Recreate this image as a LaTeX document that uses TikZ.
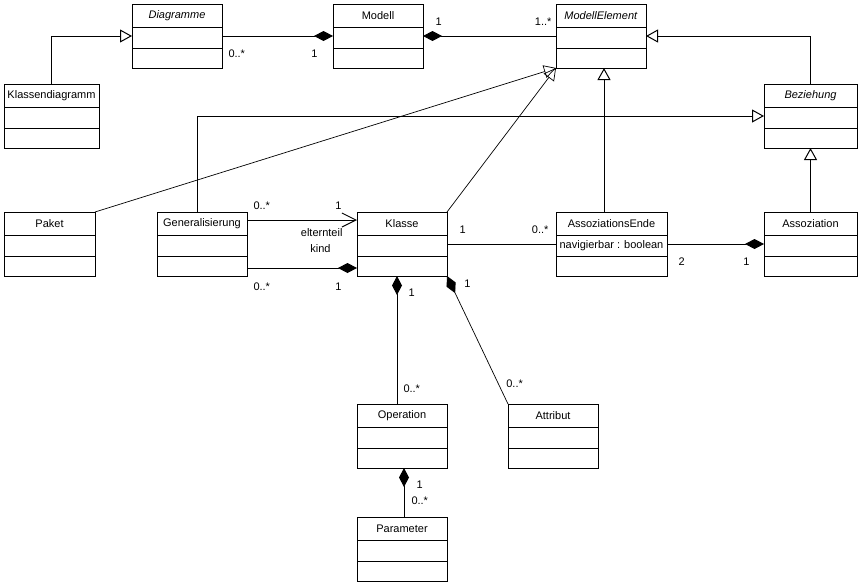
\documentclass[tikz,border=0pt]{standalone}
\usepackage{fontspec}
\setmainfont{Liberation Sans}
\usetikzlibrary{arrows.meta}

\tikzset{
  classbox/.style={draw, anchor=north west, inner sep=0pt, outer sep=0pt, minimum height=64pt},
  classname/.style={inner sep=0pt, font=\fontsize{11}{13}\selectfont},
  mult/.style={inner sep=0pt, font=\fontsize{11}{13}\selectfont},
  generalize/.style={-{Triangle[open,length=12pt,width=13pt]}},
  composite/.style={-{Diamond[length=19pt,width=10pt]}},
  navigate/.style={-{Straight Barb[length=14pt,width=14pt]}},
}

% name, x, y, width, title
\newcommand{\umlclass}[5]{%
  \node[classbox, minimum width=#4pt] (#1) at (#2,#3) {};
  \node[classname] (#1-name) at ([yshift=-11.5pt]#1.north) {#5};
  \draw ([yshift=-23pt]#1.north west) -- ([yshift=-23pt]#1.north east)
        ([yshift=-44pt]#1.north west) -- ([yshift=-44pt]#1.north east);
}

\begin{document}
\begin{tikzpicture}[x=1pt, y=-1pt, line width=1pt]
  \useasboundingbox (0,0) rectangle (858,584);

  \umlclass{diagramme}{132}{4}{90}{\textit{Diagramme}}
  \umlclass{modell}{333}{4}{90}{Modell}
  \umlclass{modellelement}{556}{4}{90}{\textit{ModellElement}}
  \umlclass{klassendiagramm}{4}{84}{95}{Klassendiagramm}
  \umlclass{beziehung}{764}{84}{93}{\textit{Beziehung}}
  \umlclass{paket}{4}{212}{91}{Paket}
  \umlclass{generalisierung}{157}{212}{90}{Generalisierung}
  \umlclass{klasse}{357}{212}{90}{Klasse}
  \umlclass{assozende}{556}{212}{111}{AssoziationsEnde}
  \umlclass{assoziation}{764}{212}{93}{Assoziation}
  \umlclass{operation}{357}{404}{90}{Operation}
  \umlclass{attribut}{508}{404}{90}{Attribut}
  \umlclass{parameter}{357}{517}{90}{Parameter}
  \node[classname] (assozende-attr) at ([yshift=-33.5pt]assozende.north) {navigierbar : boolean};

  % generalisations
  \draw[generalize] (klassendiagramm.north) |- (diagramme.west);
  \draw[generalize] (beziehung.north) |- (modellelement.east);
  \draw[generalize] ([xshift=-7.5pt]assozende.north) coordinate (ae-top) -- (ae-top |- modellelement.south);
  \draw[generalize] ([xshift=-5pt]generalisierung.north) |- (beziehung.west);
  \draw[generalize] (assoziation.north) -- (beziehung.south);
  \draw[generalize, line width=.7pt] (paket.north east) -- (modellelement.south west);
  \draw[generalize, line width=.7pt] (klasse.north east) -- (modellelement.south west);

  % associations
  \draw[composite] (diagramme.east) --
    node[mult, at start, anchor=north west, shift={(6,13)}] {0..*}
    node[mult, at end, anchor=north east, shift={(-15,13)}] {1} (modell.west);
  \draw[composite] (modellelement.west) --
    node[mult, at start, anchor=south east, shift={(-4,-10)}] {1..*}
    node[mult, at end, anchor=south west, shift={(12,-10)}] {1} (modell.east);
  \draw[navigate] ([yshift=-8pt]generalisierung.north east) --
    node[mult, at start, anchor=south west, shift={(6,-10)}] {0..*}
    node[mult, at end, anchor=south east, shift={(-15,-10)}] {1}
    node[mult, at end, anchor=north east, shift={(-14,8)}] {elternteil} ([yshift=-8pt]klasse.north west);
  \draw[composite] ([yshift=8pt]generalisierung.south east) --
    node[mult, at start, anchor=north west, shift={(6,14)}] {0..*}
    node[mult, at end, anchor=north east, shift={(-15,14)}] {1}
    node[mult, at end, anchor=south east, shift={(-26,-15)}] {kind} ([yshift=8pt]klasse.south west);
  \draw (klasse.east) --
    node[mult, at start, anchor=south west, shift={(12,-10)}] {1}
    node[mult, at end, anchor=south east, shift={(-7,-10)}] {0..*} (assozende.west);
  \draw[composite] (assozende.east) --
    node[mult, at start, anchor=north west, shift={(11,13)}] {2}
    node[mult, at end, anchor=north east, shift={(-14,13)}] {1} (assoziation.west);
  \draw[composite] ([xshift=-5pt]operation.north) --
    node[mult, at start, anchor=south west, shift={(6,-11)}] {0..*}
    node[mult, at end, anchor=north west, shift={(11,12)}] {1} ([xshift=-5pt]klasse.south);
  \draw[composite, line width=.7pt] (attribut.north west) --
    node[mult, at start, anchor=south west, shift={(-2,-16)}] {0..*}
    node[mult, at end, anchor=north west, shift={(17,4)}] {1} (klasse.south east);
  \draw[composite] ([xshift=2pt]parameter.north) --
    node[mult, at start, anchor=south west, shift={(7,-12)}] {0..*}
    node[mult, at end, anchor=north west, shift={(12,12)}] {1} ([xshift=2pt]operation.south);
\end{tikzpicture}
\end{document}
